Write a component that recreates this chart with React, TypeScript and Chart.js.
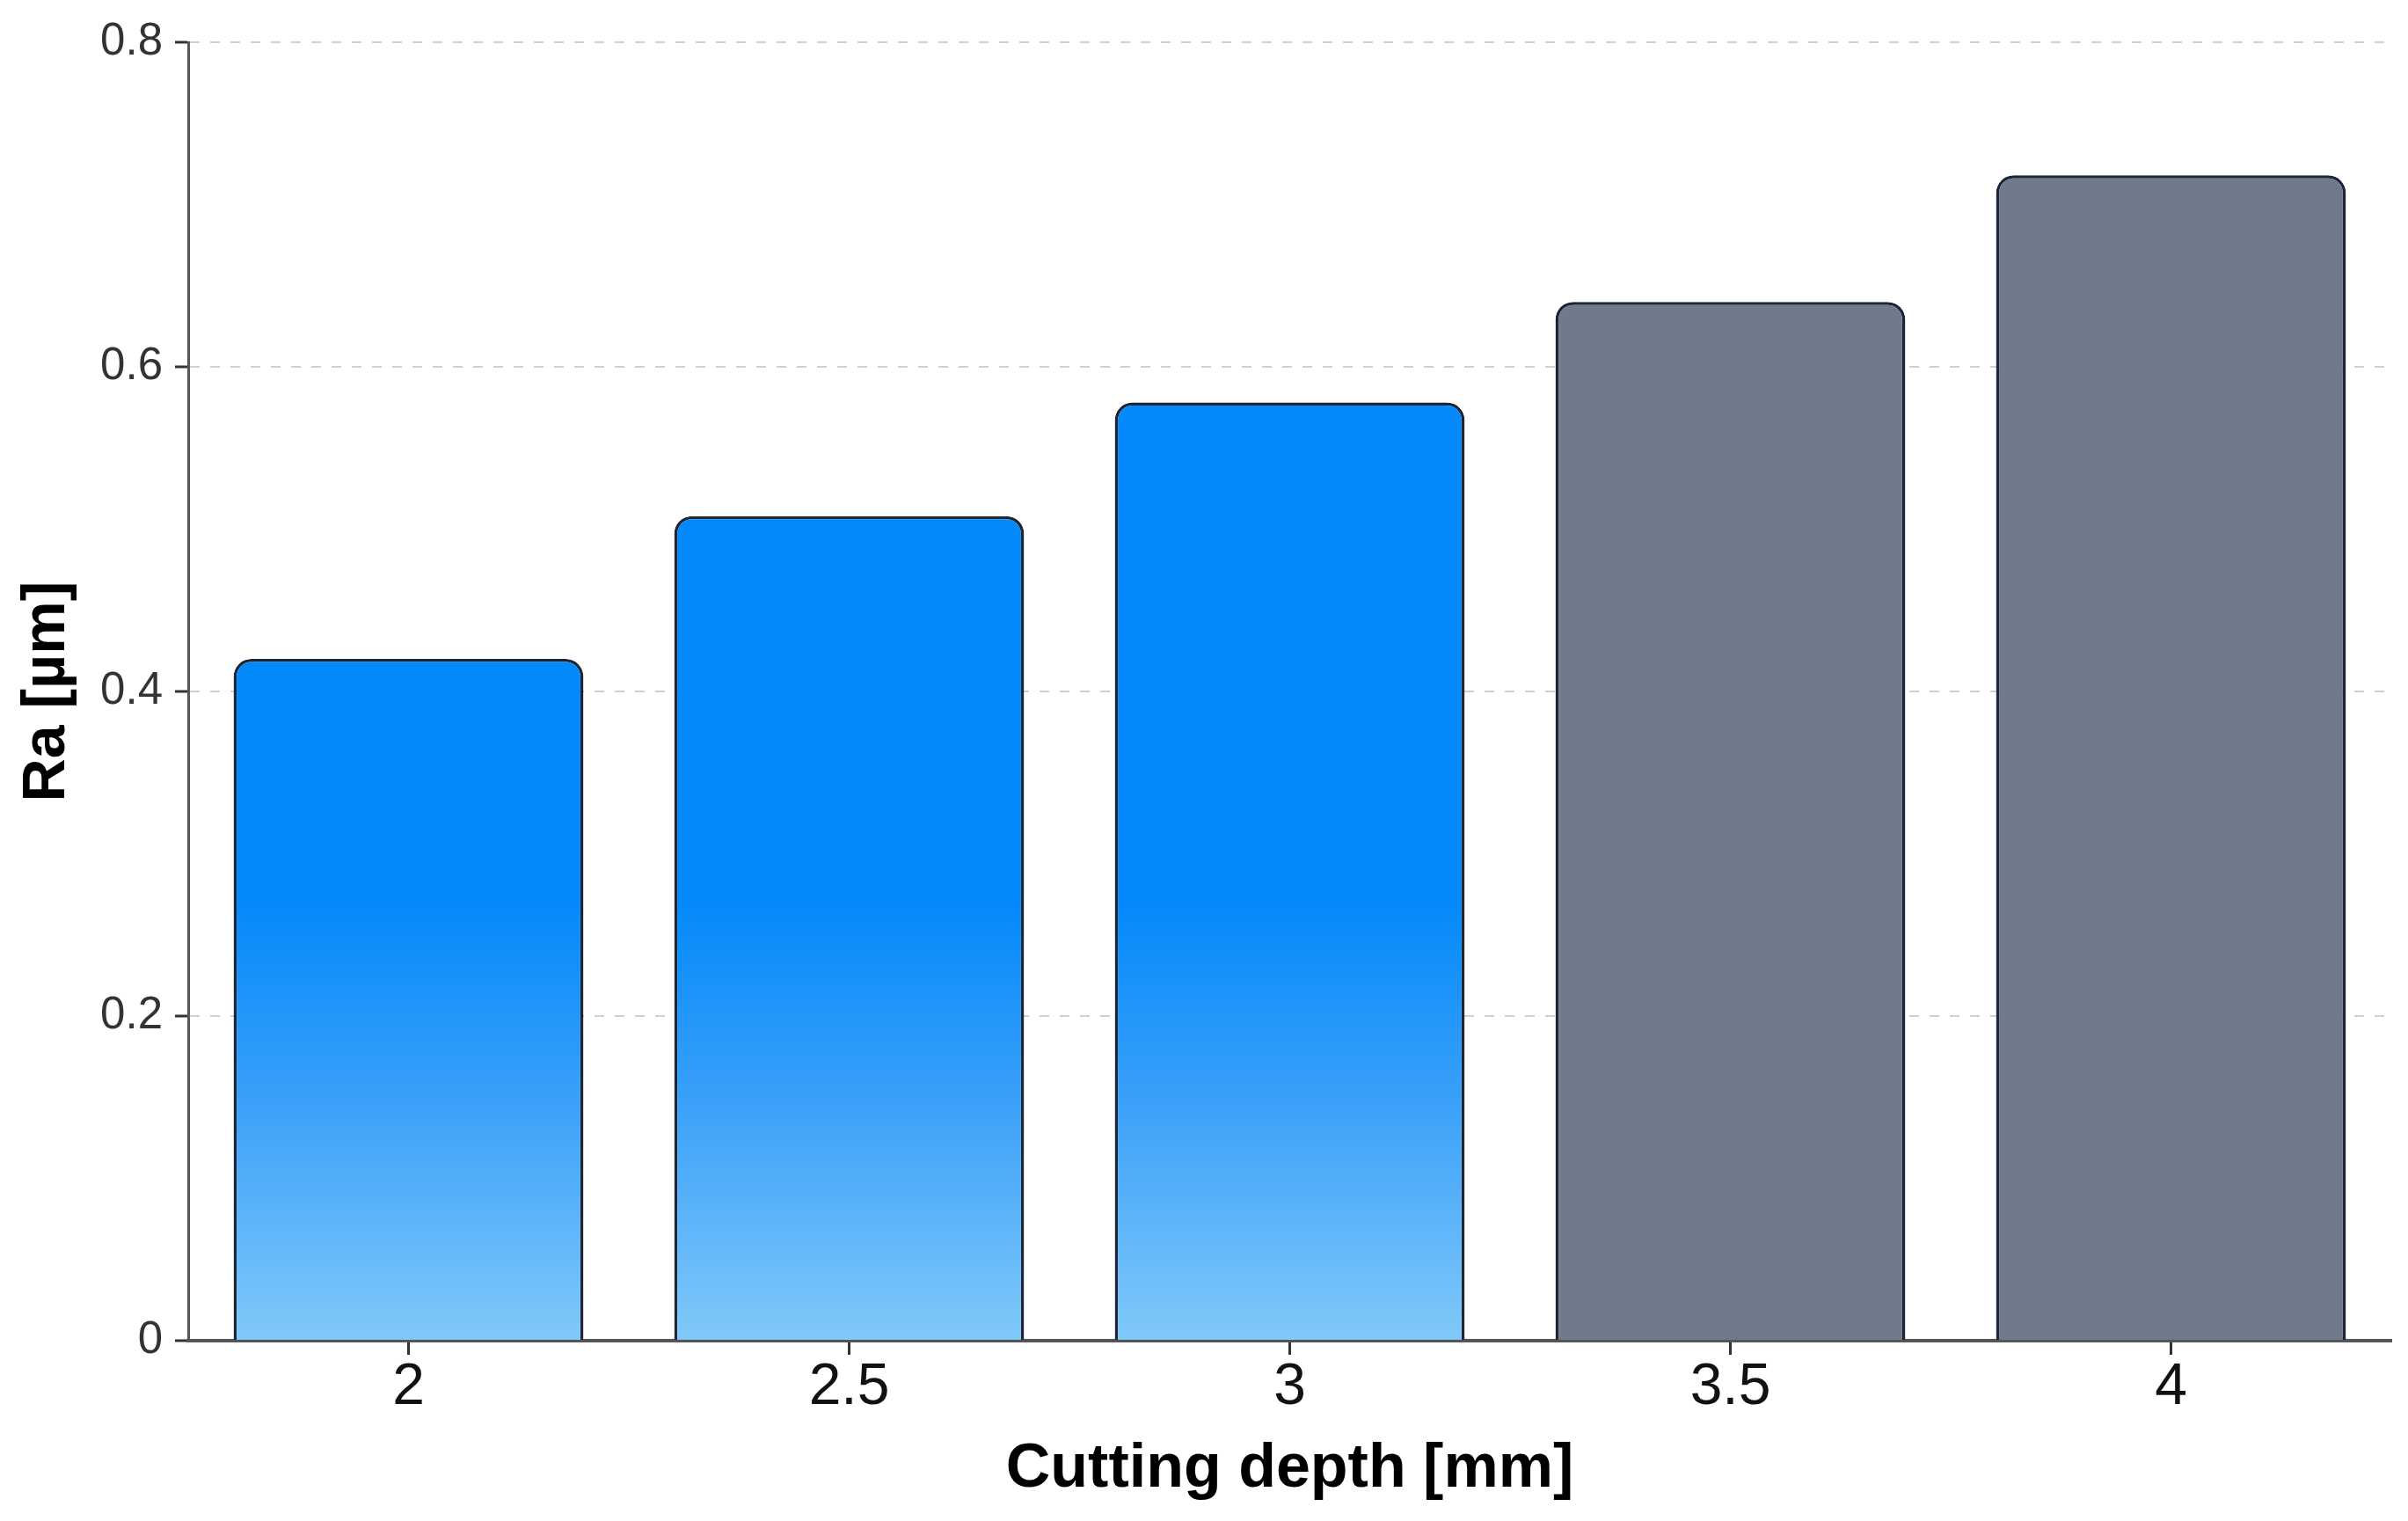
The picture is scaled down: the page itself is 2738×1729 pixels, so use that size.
import React, { useEffect, useRef } from "react";
import { Chart, registerables } from "chart.js";

Chart.register(...registerables);

const categories = ["2", "2.5", "3", "3.5", "4"];
const raValues = [0.42, 0.508, 0.578, 0.64, 0.718];
const yAxisTitle = "Ra [µm]";
const xAxisTitle = "Cutting depth [mm]";

const W = 2738;
const H = 1729;
const FONT = "'Liberation Sans', Arial, Helvetica, sans-serif";

export default function App() {
  const ref = useRef<HTMLCanvasElement | null>(null);

  useEffect(() => {
    document.body.style.margin = "0";
    document.body.style.overflow = "hidden";
    const canvas = ref.current;
    if (!canvas) return;

    let gradCache: { key: string; g: CanvasGradient } | null = null;
    const blueFill = (ctx: any) => {
      const chart = ctx.chart;
      const area = chart.chartArea;
      const y = chart.scales.y;
      if (!area || !y) return "#0489fb";
      const y0 = y.getPixelForValue(0);
      const y1 = y.getPixelForValue(0.27);
      const key = `${y0}-${y1}`;
      if (!gradCache || gradCache.key !== key) {
        const g = chart.ctx.createLinearGradient(0, y1, 0, y0);
        g.addColorStop(0, "#0489fb");
        g.addColorStop(0.45, "#3aa0f9");
        g.addColorStop(1, "#80c9f9");
        gradCache = { key, g };
      }
      return gradCache.g;
    };

    const chart = new Chart(canvas, {
      type: "bar",
      data: {
        labels: categories,
        datasets: [
          {
            label: "Ra",
            data: raValues,
            backgroundColor: (ctx: any) =>
              ctx.dataIndex >= 3 ? "#6f7b8b" : blueFill(ctx),
            borderColor: "#1b2636",
            borderWidth: 3.5,
            borderSkipped: "bottom",
            borderRadius: { topLeft: 20, topRight: 20, bottomLeft: 0, bottomRight: 0 },
            categoryPercentage: 1,
            barPercentage: 0.794,
          },
        ],
      },
      options: {
        animation: false,
        responsive: false,
        devicePixelRatio: 1,
        layout: { padding: { top: 48, right: 19, bottom: 0, left: 0 } },
        plugins: {
          legend: { display: false },
          tooltip: { enabled: false },
        },
        scales: {
          x: {
            grid: {
              offset: false,
              drawOnChartArea: false,
              drawTicks: true,
              tickLength: 16,
              tickColor: "#333333",
              tickWidth: 3,
            },
            border: { display: true, color: "#555555", width: 4 },
            ticks: {
              color: "#111111",
              padding: 5,
              font: { family: FONT, size: 66, lineHeight: 1 },
            },
            title: {
              display: true,
              text: xAxisTitle,
              color: "#000000",
              font: { family: FONT, size: 70, weight: "bold", lineHeight: 1.2 },
              padding: { top: 0, bottom: 16 },
            },
            afterFit: (scale: any) => {
              scale.height = 205;
            },
          },
          y: {
            min: 0,
            max: 0.8,
            ticks: {
              stepSize: 0.2,
              color: "#333333",
              padding: 14,
              font: { family: FONT, size: 51 },
            },
            grid: {
              color: (ctx: any) => (ctx.tick && ctx.tick.value === 0 ? "rgba(0,0,0,0)" : "#d0d0d0"),
              lineWidth: 2,
              drawTicks: true,
              tickLength: 15,
              tickColor: "#333333",
              tickWidth: 3,
              tickBorderDash: [],
            },
            border: { display: true, color: "#555555", width: 3, dash: [11, 12] },
            title: {
              display: true,
              text: yAxisTitle,
              color: "#000000",
              font: { family: FONT, size: 68, weight: "bold", lineHeight: 1.2 },
              padding: { top: 13, bottom: 0 },
            },
            afterFit: (scale: any) => {
              scale.width = 214;
            },
          },
        },
      },
    });

    return () => {
      chart.destroy();
    };
  }, []);

  return (
    <div style={{ width: W, height: H, background: "#ffffff" }}>
      <canvas ref={ref} width={W} height={H} style={{ display: "block", width: W, height: H }} />
    </div>
  );
}
